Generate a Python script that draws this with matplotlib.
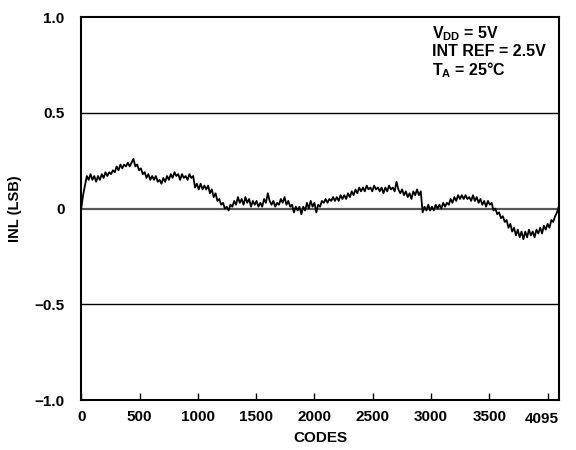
import matplotlib
matplotlib.use("Agg")
import matplotlib.pyplot as plt
import numpy as np

plt.rcParams['font.family'] = ['Liberation Sans', 'DejaVu Sans']
plt.rcParams['font.weight'] = 'bold'
plt.rcParams['mathtext.fontset'] = 'custom'
plt.rcParams['mathtext.rm'] = 'Liberation Sans:bold'
plt.rcParams['mathtext.it'] = 'Liberation Sans:bold'
plt.rcParams['mathtext.bf'] = 'Liberation Sans:bold'

# INL, one value every 16 codes (0..4080) plus code 4095
codes = list(range(0, 4096, 16)) + [4095]
inl = [
    0.00, 0.07, 0.12, 0.17, 0.15, 0.18, 0.15, 0.17, 0.14, 0.17, 0.15, 0.18, 0.16, 0.19, 0.17, 0.19,
    0.18, 0.20, 0.19, 0.22, 0.20, 0.23, 0.21, 0.23, 0.22, 0.24, 0.22, 0.24, 0.26, 0.22, 0.23, 0.20,
    0.21, 0.18, 0.19, 0.16, 0.18, 0.15, 0.17, 0.15, 0.17, 0.14, 0.15, 0.13, 0.16, 0.14, 0.17, 0.15,
    0.18, 0.16, 0.19, 0.17, 0.18, 0.15, 0.18, 0.16, 0.17, 0.15, 0.18, 0.16, 0.17, 0.11, 0.13, 0.10,
    0.13, 0.10, 0.12, 0.10, 0.12, 0.08, 0.10, 0.06, 0.08, 0.04, 0.05, 0.02, 0.03, 0.00, 0.01, -0.01,
    0.02, 0.01, 0.04, 0.02, 0.06, 0.03, 0.05, 0.02, 0.06, 0.03, 0.05, 0.01, 0.04, 0.02, 0.04, 0.01,
    0.03, 0.01, 0.05, 0.03, 0.08, 0.04, 0.02, 0.04, 0.01, 0.03, 0.02, 0.05, 0.03, 0.06, 0.02, 0.04,
    0.01, 0.02, -0.02, 0.01, -0.01, 0.01, -0.03, 0.01, -0.01, 0.03, 0.00, 0.04, 0.01, 0.03, -0.02, 0.02,
    0.01, 0.04, 0.03, 0.05, 0.03, 0.05, 0.04, 0.06, 0.04, 0.06, 0.04, 0.07, 0.05, 0.07, 0.05, 0.08,
    0.06, 0.09, 0.07, 0.10, 0.08, 0.11, 0.09, 0.11, 0.09, 0.12, 0.10, 0.11, 0.09, 0.12, 0.10, 0.11,
    0.09, 0.11, 0.08, 0.11, 0.09, 0.12, 0.10, 0.11, 0.09, 0.14, 0.10, 0.08, 0.10, 0.07, 0.09, 0.06,
    0.08, 0.05, 0.09, 0.07, 0.10, 0.07, 0.09, -0.02, 0.01, -0.01, 0.02, -0.01, 0.01, -0.01, 0.02, 0.00,
    0.02, 0.00, 0.03, 0.01, 0.03, 0.02, 0.05, 0.03, 0.06, 0.04, 0.07, 0.05, 0.07, 0.05, 0.07, 0.05,
    0.06, 0.04, 0.07, 0.04, 0.06, 0.03, 0.05, 0.02, 0.04, 0.01, 0.04, 0.02, 0.03, -0.01, 0.00, -0.03,
    -0.02, -0.05, -0.04, -0.07, -0.06, -0.10, -0.08, -0.12, -0.10, -0.14, -0.11, -0.15, -0.12, -0.16, -0.12, -0.15,
    -0.11, -0.14, -0.12, -0.15, -0.11, -0.13, -0.10, -0.13, -0.09, -0.11, -0.08, -0.10, -0.06, -0.07, -0.04, -0.02,
    0.01,
]

xticks = [0, 500, 1000, 1500, 2000, 2500, 3000, 3500, 4000]
xlabels = ['0', '500', '1000', '1500', '2000', '2500', '3000', '3500', '']
yticks = [-1.0, -0.5, 0, 0.5, 1.0]
ylabels = ['\u22121.0', '\u22120.5', '0', '0.5', '1.0']

fig = plt.figure(figsize=(5.76, 4.5), dpi=100)
ax = fig.add_axes([0.141, 0.111, 0.829, 0.851])

ax.axhline(0.5, color='black', lw=1.0)
ax.axhline(-0.5, color='black', lw=1.0)
ax.axhline(0, color='#555555', lw=1.6)
ax.plot(codes, inl, color='black', lw=1.3)

ax.set_xlim(0, 4095)
ax.set_ylim(-1, 1)
ax.set_xticks(xticks, labels=xlabels)
ax.set_yticks(yticks, labels=ylabels)
ax.tick_params(axis='x', direction='in', length=5, width=1, pad=7, labelsize=11)
ax.tick_params(axis='y', length=0, pad=12, labelsize=11)
ax.text(4095, -0.03, '4095', transform=ax.get_xaxis_transform(),
        ha='right', va='top', fontsize=11, fontweight='bold')
for s in ax.spines.values():
    s.set_linewidth(1.5)

ax.set_xlabel('CODES', fontsize=11, fontweight='bold', labelpad=5)
ax.set_ylabel('INL (LSB)', fontsize=10.5, fontweight='bold', labelpad=9)

ax.text(0.735, 0.98, 'V$_{\\rm DD}$ = 5V\nINT REF = 2.5V\nT$_{\\rm A}$ = 25\u00b0C',
        transform=ax.transAxes, ha='left', va='top', fontsize=11.5,
        fontweight='bold', linespacing=1.05)

fig.savefig('out.png', dpi=100)
